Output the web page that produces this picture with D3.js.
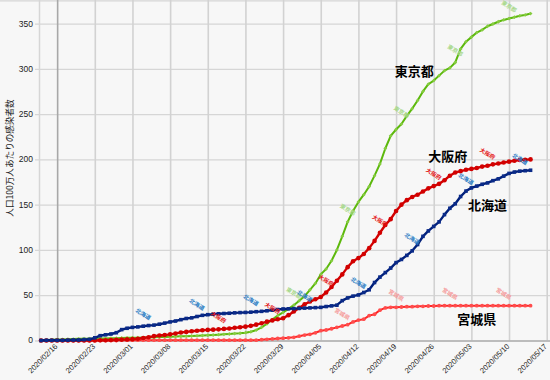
<!DOCTYPE html>
<html><head><meta charset="utf-8">
<script src="https://cdn.jsdelivr.net/npm/d3@7"></script>
<style>html,body{margin:0;padding:0;background:#f7f7f7;} svg{display:block;}</style>
</head><body><svg id="c" width="550" height="380"></svg>
<script>
const startDate = "2020/02/13";
const tokyo = [
0.3,0.5,0.7,1.0,1.2,1.5,1.6,1.8,1.9,2.0,
2.1,2.2,2.3,2.5,2.6,2.8,2.9,3.0,3.1,3.2,
3.4,3.6,3.8,4.0,4.2,4.4,4.6,4.8,5.0,5.2,
5.5,5.8,6.1,6.4,6.8,7.2,7.6,8.0,8.6,9.6,
11.5,14.5,18.5,23.0,27.5,31.0,35.0,39.0,44.0,49.0,
56.0,63.0,73.0,79.0,88.0,100.0,115.0,131.0,143.0,153.0,
161.0,170.0,182.0,195.0,212.0,226.0,233.0,239.0,248.0,256.0,
265.0,275.0,283.0,287.0,292.5,298.0,301.0,307.0,322.0,330.0,
335.0,340.0,343.0,347.0,349.5,352.0,354.0,355.5,357.0,358.5,
359.5,361.0];
const osaka = [
0,0,0,0,0,0,0,0,0,0,
0.1,0.2,0.3,0.5,0.7,1.0,1.2,1.5,2.0,2.8,
3.6,4.8,5.6,6.0,6.8,7.8,8.8,9.5,10.2,10.8,
11.3,11.7,12.0,12.3,12.8,13.3,14.0,14.6,15.3,16.2,
17.5,19.0,20.8,22.2,23.5,24.5,28.0,32.0,36.0,40.0,
43.0,45.5,48.0,53.0,59.0,66.0,73.0,81.0,87.5,91.0,
95.5,102.0,110.0,119.0,127.5,134.0,143.0,150.0,155.0,158.5,
161.0,164.5,168.0,170.5,173.0,177.0,182.0,185.5,187.0,188.5,
189.5,190.5,192.0,193.0,194.5,195.5,196.5,197.5,198.5,199.3,
199.6,200.0];
const hokkaido = [
0,0.2,0.2,0.2,0.2,0.4,0.6,0.6,1.0,1.3,
3.0,5.3,6.3,7.2,8.6,12.0,13.5,14.5,15.0,15.8,
16.5,17.0,18.0,19.2,20.5,21.5,23.0,24.3,25.0,26.5,
27.8,28.5,29.0,29.5,29.8,30.1,30.5,30.8,31.0,31.3,
31.8,32.2,32.8,33.5,34.2,34.8,35.0,35.2,35.5,35.8,
36.0,36.3,36.6,37.5,38.2,39.0,44.0,47.0,49.0,50.3,
53.0,56.0,64.0,70.0,75.0,80.0,86.0,89.5,94.0,99.0,
106.0,115.0,121.0,126.0,131.0,139.0,146.0,151.0,159.0,165.0,
168.5,170.5,172.5,174.0,176.5,178.5,181.5,184.5,186.0,187.0,
187.5,188.0];
const miyagi = [
0,0,0,0,0,0,0,0,0,0,
0,0,0,0,0,0.4,0.4,0.4,0.4,0.4,
0.4,0.4,0.4,0.4,0.4,0.4,0.4,0.4,0.4,0.4,
0.4,0.4,0.4,0.4,0.4,0.4,0.4,0.4,0.4,0.4,
0.4,0.9,1.3,1.7,2.2,2.6,3.0,3.5,4.8,6.0,
6.8,8.5,10.8,11.6,13.0,14.5,16.0,17.5,20.5,22.5,
23.5,27.5,29.0,33.5,36.0,36.6,36.6,37.0,37.3,37.3,
37.7,37.7,38.1,38.1,38.4,38.4,38.4,38.4,38.4,38.4,
38.4,38.4,38.4,38.4,38.4,38.4,38.4,38.4,38.4,38.4,
38.4,38.4];
const seriesNames = ["宮城県","東京都","大阪府","北海道"];
const labelDays = {
  "東京都": [47,57,67,77,87],
  "大阪府": [33,43,53,63,73,83],
  "北海道": [19,29,39,49,59,69,79,89],
  "宮城県": [56,66,76,86]
};
const xTickLabels = ["2020/02/16","2020/02/23","2020/03/01","2020/03/08","2020/03/15","2020/03/22","2020/03/29","2020/04/05","2020/04/12","2020/04/19","2020/04/26","2020/05/03","2020/05/10","2020/05/17"];
const yTicks = [0,50,100,150,200,250,300,350];
const yTitle = "人口100万人あたりの感染者数";
const bigLabels = [
  {name:"東京都", date:"2020/04/22", value:298, dx:2},
  {name:"大阪府", date:"2020/04/29", value:204, dx:-2},
  {name:"北海道", date:"2020/05/06", value:150, dx:0},
  {name:"宮城県", date:"2020/05/04", value:24, dx:0}
];

const valuesBy = {"東京都":tokyo,"大阪府":osaka,"北海道":hokkaido,"宮城県":miyagi};
const style = {
  "東京都": {line:"#5cb80c", w:2, mark:"#86cc40", shape:"diamond", r:1.8, lab:"#a6d888"},
  "大阪府": {line:"#d20000", w:2.4, mark:"#d20000", shape:"circle", r:2.3, lab:"#e41414"},
  "北海道": {line:"#001f7a", w:2.4, mark:"#0a2a88", shape:"square", r:1.8, lab:"#2a7cc4"},
  "宮城県": {line:"#ff2424", w:2, mark:"#ff4c4c", shape:"circle", r:1.9, lab:"#f59a9a"}
};

const parse = d3.utcParse("%Y/%m/%d");
const t0 = parse(startDate);
const dates = tokyo.map((_, i) => d3.utcDay.offset(t0, i));
const x = d3.scaleUtc().domain([t0, parse("2020/05/17")]).range([41, 546.7]);
const y = d3.scaleLinear().domain([0, 375]).range([340.5, 0.9]);

const svg = d3.select("#c");
svg.append("rect").attr("width",550).attr("height",380).attr("fill","#f7f7f7");

// horizontal grid
const gy = svg.append("g").attr("transform","translate(35,0)")
  .call(d3.axisLeft(y).tickValues(yTicks).tickSize(-515).tickFormat(""));
gy.select(".domain").remove();
gy.selectAll(".tick line").attr("stroke","#d6d6d6").attr("stroke-width",1.3);
// top border
svg.append("line").attr("x1",0).attr("x2",550).attr("y1",0.8).attr("y2",0.8).attr("stroke","#d6d6d6").attr("stroke-width",1.3);
// left boundary
svg.append("line").attr("x1",39.5).attr("x2",39.5).attr("y1",0).attr("y2",341).attr("stroke","#d6d6d6").attr("stroke-width",1.5);

// vertical grid
const tickDates = xTickLabels.map(parse);
const gx = svg.append("g").attr("transform","translate(0,341)")
  .call(d3.axisBottom(x).tickValues(tickDates).tickSize(-341).tickFormat(""));
gx.select(".domain").remove();
gx.selectAll(".tick line").attr("stroke",(d,i)=> i===0 ? "#a8a8a8" : "#d2d2d2").attr("stroke-width",1.6);

// x axis line
svg.append("line").attr("x1",39).attr("x2",550).attr("y1",341).attr("y2",341).attr("stroke","#b0b0b0").attr("stroke-width",1.6);

// y tick labels
svg.append("g").selectAll("text").data(yTicks).join("text")
  .attr("x",33).attr("y",d=>y(d)).attr("dy","0.35em").attr("text-anchor","end")
  .attr("font-family","Liberation Sans, Arial, sans-serif").attr("font-size",8.5).attr("fill","#222")
  .text(d=>d);

// x tick labels
svg.append("g").selectAll("text").data(tickDates).join("text")
  .attr("transform",d=>`translate(${x(d)-1},${345}) rotate(-45)`)
  .attr("dy","0.35em").attr("text-anchor","end")
  .attr("font-family","Liberation Sans, Arial, sans-serif").attr("font-size",7.6).attr("fill","#222")
  .text((d,i)=>xTickLabels[i]);

// y title
svg.append("text").attr("transform","translate(10,158) rotate(-90)")
  .attr("text-anchor","middle").attr("dy","0.35em")
  .attr("font-family","Noto Sans CJK JP, sans-serif").attr("font-size",8.6).attr("fill","#222")
  .text(yTitle);

// lines
const line = d3.line().x((d,i)=>x(dates[i])).y(d=>y(d));
seriesNames.forEach(name=>{
  const s = style[name], vals = valuesBy[name];
  const g = svg.append("g");
  g.append("path").datum(vals).attr("d",line).attr("fill","none")
    .attr("stroke",s.line).attr("stroke-width",s.w).attr("stroke-linejoin","round");
  const m = g.selectAll(".m").data(vals).join(s.shape==="circle"?"circle":"rect");
  if (s.shape==="circle") {
    m.attr("cx",(d,i)=>x(dates[i])).attr("cy",d=>y(d)).attr("r",s.r).attr("fill",s.mark);
  } else if (s.shape==="square") {
    m.attr("x",(d,i)=>x(dates[i])-s.r).attr("y",d=>y(d)-s.r).attr("width",2*s.r).attr("height",2*s.r).attr("fill",s.mark);
  } else {
    m.attr("x",(d,i)=>x(dates[i])-s.r*0.75).attr("y",d=>y(d)-s.r*0.75).attr("width",1.5*s.r).attr("height",1.5*s.r)
     .attr("transform",(d,i)=>`rotate(45,${x(dates[i])},${y(d)})`).attr("fill",s.mark);
  }
});

// small rotated labels
seriesNames.forEach(name=>{
  const s = style[name], vals = valuesBy[name];
  svg.append("g").selectAll("text").data(labelDays[name]).join("text")
    .attr("transform",d=>`translate(${x(dates[d])},${y(vals[d])-12}) rotate(32)`)
    .attr("text-anchor","middle").attr("dy","0.35em")
    .attr("font-family","Noto Sans CJK JP, sans-serif").attr("font-size",5.6).attr("font-weight","bold")
    .attr("fill",s.lab).text(name);
});

// big labels
svg.append("g").selectAll("text").data(bigLabels).join("text")
  .attr("x",d=>x(parse(d.date))+d.dx).attr("y",d=>y(d.value)).attr("dy","0.38em")
  .attr("text-anchor","middle")
  .attr("font-family","Noto Sans CJK JP, sans-serif").attr("font-size",13).attr("font-weight","bold")
  .attr("fill","#000").text(d=>d.name);
</script></body></html>
